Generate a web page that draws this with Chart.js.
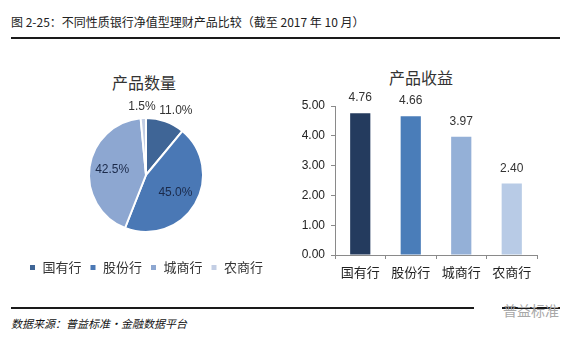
<!DOCTYPE html>
<html>
<head>
<meta charset="utf-8">
<script src="https://cdn.jsdelivr.net/npm/chart.js@4.4.1/dist/chart.umd.min.js"></script>
<style>
  html, body { margin: 0; padding: 0; background: #fff; }
  body { width: 573px; height: 341px; position: relative; overflow: hidden;
         font-family: "Noto Sans CJK SC", sans-serif; color: #222; }
  .abs { position: absolute; white-space: nowrap; }
  #figTitle { left: 11px; top: 13px; font-size: 12px; line-height: 18px; color: #222; }
  .rule { position: absolute; height: 2px; background: #1a1a1a; }
  .chartTitle { position: absolute; width: 120px; text-align: center; font-size: 16px;
                line-height: 20px; color: #333; }
  #source { left: 11px; top: 315px; font-size: 11px; line-height: 16px; font-style: italic; color: #111; }
  #mark { left: 503px; top: 301px; font-size: 14px; line-height: 18px; color: #a8a8a8; }
  #pieCanvas { position: absolute; left: 20px; top: 60px; }
  #barCanvas { position: absolute; left: 290px; top: 60px; }
</style>
</head>
<body>
<div id="figTitle" class="abs">图 2-25：不同性质银行净值型理财产品比较（截至 2017 年 10 月）</div>
<div class="rule" style="left:11px; top:37px; width:549px;"></div>

<div class="chartTitle" style="left:84px; top:72px;">产品数量</div>
<div class="chartTitle" style="left:361px; top:67px;">产品收益</div>

<canvas id="pieCanvas" width="252" height="224"></canvas>
<canvas id="barCanvas" width="250" height="225"></canvas>

<div class="rule" style="left:11px; top:307px; width:463px;"></div>
<div class="rule" style="left:502px; top:307px; width:58px;"></div>
<div id="mark" class="abs">普益标准</div>
<div id="source" class="abs">数据来源：普益标准·金融数据平台</div>

<script>
// bank types, shared by both charts
const bankTypes = ['国有行', '股份行', '城商行', '农商行'];
// share of product count, %
const countShares = [11.0, 45.0, 42.5, 1.5];
// average product yield, %
const yieldValues = [4.76, 4.66, 3.97, 2.40];
const yieldTicks = [0, 1, 2, 3, 4, 5];

const pieColors = ['#3f6596', '#4a78b5', '#8da7d1', '#c3cee4'];
const barColors = ['#243b5e', '#4a7db9', '#94b0d7', '#b8cbe6'];

const NUM_FONT = '"Liberation Sans", Arial, sans-serif';
const CJK_FONT = '"Noto Sans CJK SC", sans-serif';

// percentage labels: big slices inside, small ones just outside the rim
const pieLabels = {
  id: 'pieLabels',
  afterDatasetsDraw(chart) {
    const { ctx } = chart;
    const meta = chart.getDatasetMeta(0);
    ctx.save();
    ctx.font = '12px ' + NUM_FONT;
    ctx.textAlign = 'center';
    ctx.textBaseline = 'middle';
    meta.data.forEach((arc, i) => {
      const p = arc.getProps(['x', 'y', 'startAngle', 'endAngle', 'outerRadius'], true);
      const mid = (p.startAngle + p.endAngle) / 2;
      const text = countShares[i].toFixed(1) + '%';
      const inside = countShares[i] >= 20;
      const d = p.outerRadius * (inside ? 0.6 : 1.2);
      let x = p.x + Math.cos(mid) * d;
      const y = p.y + Math.sin(mid) * d;
      // push outside labels sideways so neighbours near the top don't crowd
      if (!inside) x += Math.cos(mid) * ctx.measureText(text).width * 0.6;
      ctx.fillStyle = inside ? '#1b2a4a' : '#333';
      ctx.fillText(text, x, y);
    });
    ctx.restore();
  }
};

// value printed above each bar
const barValueLabels = {
  id: 'barValueLabels',
  afterDatasetsDraw(chart) {
    const { ctx } = chart;
    const meta = chart.getDatasetMeta(0);
    ctx.save();
    ctx.font = '12px ' + NUM_FONT;
    ctx.fillStyle = '#333';
    ctx.textAlign = 'center';
    ctx.textBaseline = 'middle';
    meta.data.forEach((bar, i) => {
      ctx.fillText(yieldValues[i].toFixed(2), bar.x, bar.y - 15);
    });
    ctx.restore();
  }
};

new Chart(document.getElementById('pieCanvas'), {
  type: 'pie',
  data: {
    labels: bankTypes,
    datasets: [{
      data: countShares,
      backgroundColor: pieColors,
      borderColor: '#ffffff',
      borderWidth: 2,
    }],
  },
  options: {
    responsive: false,
    animation: false,
    radius: 57,
    layout: { padding: { top: 37 } },
    plugins: {
      tooltip: { enabled: false },
      legend: {
        position: 'bottom',
        labels: {
          boxWidth: 7,
          boxHeight: 7,
          padding: 8,
          color: '#333',
          font: { family: CJK_FONT, size: 13 },
        },
      },
    },
  },
  plugins: [pieLabels],
});

new Chart(document.getElementById('barCanvas'), {
  type: 'bar',
  data: {
    labels: bankTypes,
    datasets: [{
      data: yieldValues,
      backgroundColor: barColors,
      barPercentage: 0.4,
      categoryPercentage: 1.0,
    }],
  },
  options: {
    responsive: false,
    animation: false,
    layout: { padding: { top: 46, right: 3 } },
    plugins: { legend: { display: false }, tooltip: { enabled: false } },
    scales: {
      x: {
        afterFit(scale) { scale.height = 30; },
        grid: { drawOnChartArea: false, drawTicks: true, tickLength: 4, color: '#8a8a8a' },
        border: { color: '#8a8a8a', width: 1 },
        ticks: { color: '#222', padding: 5, font: { family: CJK_FONT, size: 13 } },
      },
      y: {
        min: yieldTicks[0],
        max: yieldTicks[yieldTicks.length - 1],
        afterFit(scale) { scale.width = 45; },
        afterBuildTicks(scale) { scale.ticks = yieldTicks.map(v => ({ value: v })); },
        grid: { drawOnChartArea: false, drawTicks: true, tickLength: 4, color: '#8a8a8a' },
        border: { color: '#8a8a8a', width: 1 },
        ticks: {
          color: '#222',
          padding: 6,
          font: { family: NUM_FONT, size: 12 },
          callback: v => Number(v).toFixed(2),
        },
      },
    },
  },
  plugins: [barValueLabels],
});
</script>
</body>
</html>
